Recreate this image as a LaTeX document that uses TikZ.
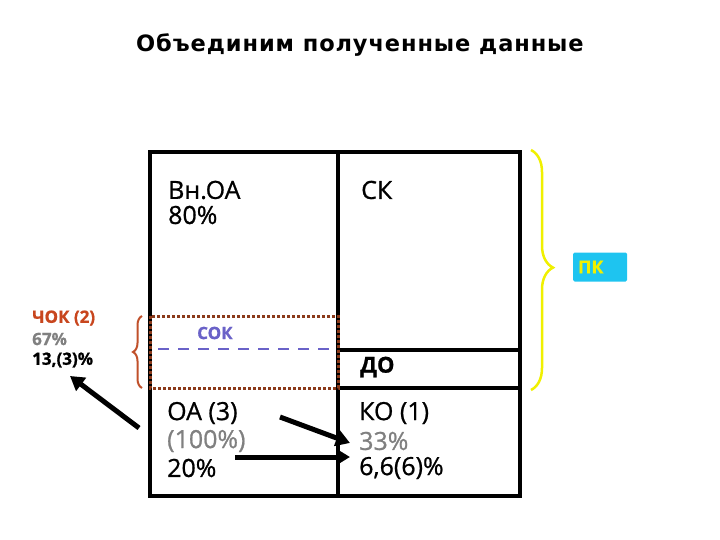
\documentclass[tikz,border=0pt]{standalone}
\usepackage{fontspec}
\setmainfont{Open Sans}[FakeBold=0.8]
\newfontfamily\titlefont[LetterSpace=4]{DejaVu Sans Bold}
\usetikzlibrary{arrows.meta,decorations.pathreplacing}
\definecolor{cokred}{HTML}{C8461E}
\definecolor{braceorange}{HTML}{C0502A}
\definecolor{sokblue}{HTML}{6A62C8}
\definecolor{pkcyan}{HTML}{1EC4F0}
\definecolor{pkyellow}{HTML}{F0F000}
\definecolor{dotbrown}{HTML}{8B3A1A}
\tikzset{
  txt/.style={anchor=west, inner sep=0pt, font=\fontsize{25}{28}\selectfont},
  side/.style={anchor=west, inner sep=0pt, font=\bfseries\fontsize{17}{20}\selectfont},
  frame/.style={line width=4pt, line cap=rect},
  bigarrow/.style={line width=5pt, -{Triangle[length=14pt,width=16pt]}},
}
\begin{document}
\begin{tikzpicture}[x=1pt,y=-1pt]
\useasboundingbox (0,0) rectangle (720,540);
% title
\node[font=\titlefont\fontsize{22.5}{26}\selectfont] (title) at (360,45) {Объединим полученные данные};
% frame
\draw[frame] (150,152) rectangle (520,496);
\draw[frame] (338,152) -- (338,496);
\draw[frame] (338,350) -- (520,350);
\draw[frame] (338,388) -- (520,388);
% dotted box
\draw[dotbrown, line width=3pt, dotted] (150,316) rectangle (338,388);
\draw[sokblue, line width=2.5pt, dash pattern=on 11pt off 9pt] (158,349) -- (336,349);
% texts
\node[txt] (vnoa) at (168,190) {Вн.ОА};
\node[txt] (p80) at (168,215) {80\%};
\node[txt] (sk) at (361,190) {СК};
\node[txt, text=sokblue, font=\bfseries\fontsize{17}{20}\selectfont] (sok) at (197,333) {СОК};
\node[txt, font=\bfseries\fontsize{22}{26}\selectfont] (do) at (360,367) {ДО};
\node[txt] (oa) at (167,413) {ОА (3)};
\node[txt, text=gray] (p100) at (167,441) {(100\%)};
\node[txt] (p20) at (167,468) {20\%};
\node[txt] (ko) at (359,413) {КО (1)};
\node[txt, text=gray] (p33) at (359,441) {33\%};
\node[txt] (p66) at (359,468) {6,6(6)\%};
% left labels
\node[side, text=cokred] (cok) at (32,318) {ЧОК (2)};
\node[side, text=gray] (p67) at (32,339) {67\%};
\node[side] (p13) at (32,360) {13,(3)\%};
% left brace
\coordinate (lb1) at (142,388);
\coordinate (lb2) at (142,316);
\draw[braceorange, line width=2pt, decorate, decoration={brace, amplitude=9pt}] (lb1) -- (lb2);
% yellow brace and PK
\coordinate (yb1) at (531,150);
\coordinate (yb2) at (531,390);
\draw[pkyellow, line width=2.5pt, decorate, decoration={brace, amplitude=22pt, aspect=0.49}] (yb1) -- (yb2);
\node[fill=pkcyan, text=pkyellow, rounded corners=1.5pt, minimum width=54pt, minimum height=29pt, inner sep=0pt, font=\bfseries\fontsize{18}{20}\selectfont, text width=44pt, align=left] (pk) at (600,267) {ПК};
% arrows
\coordinate (a1s) at (139,428);
\coordinate (a1e) at (70,376);
\draw[bigarrow] (a1s) -- (a1e);
\coordinate (a2s) at (280,417);
\coordinate (a2e) at (350,443);
\draw[bigarrow] (a2s) -- (a2e);
\coordinate (a3s) at (235,457);
\coordinate (a3e) at (350,457);
\draw[bigarrow] (a3s) -- (a3e);
\end{tikzpicture}
\end{document}
